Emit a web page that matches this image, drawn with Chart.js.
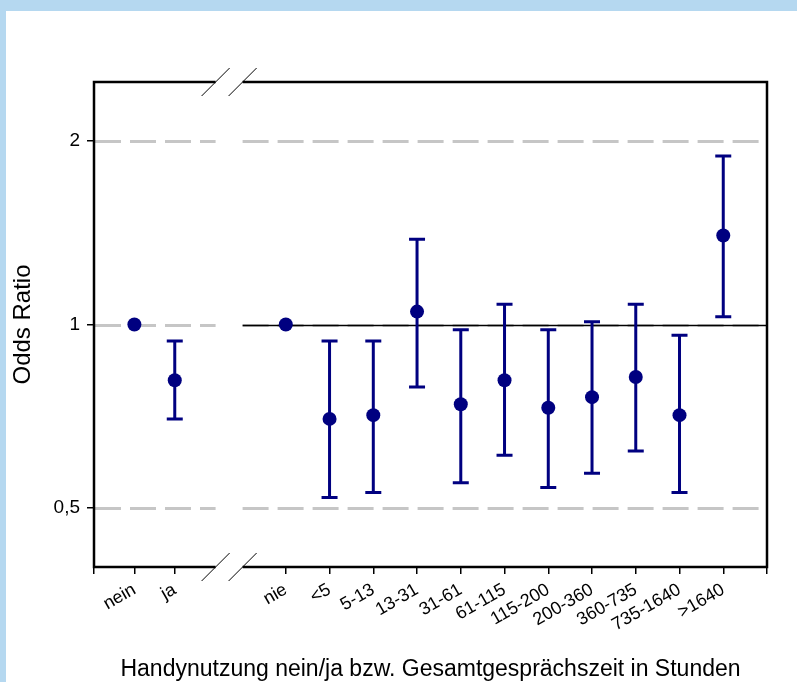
<!DOCTYPE html>
<html>
<head>
<meta charset="utf-8">
<title>Odds Ratio Handynutzung</title>
<script src="https://cdn.jsdelivr.net/npm/chart.js@4.4.0/dist/chart.umd.min.js"></script>
<style>
  html, body { margin: 0; padding: 0; background: #b5d8f0; }
  canvas { display: block; }
</style>
</head>
<body>
<canvas id="chart" width="797" height="682"></canvas>
<script>
// Kategorien (x-Achse)
const categories = ['nein', 'ja', 'nie', '<5', '5-13', '13-31', '31-61', '61-115',
                    '115-200', '200-360', '360-735', '735-1640', '>1640'];
// Odds Ratio je Kategorie
const oddsRatio = [1, 0.81, 1, 0.70, 0.71, 1.05, 0.74, 0.81, 0.73, 0.76, 0.82, 0.71, 1.40];
// 95%-Konfidenzintervall (untere / obere Grenze)
const ciLower = [null, 0.70, null, 0.52, 0.53, 0.79, 0.55, 0.61, 0.54, 0.57, 0.62, 0.53, 1.03];
const ciUpper = [null, 0.94, null, 0.94, 0.94, 1.38, 0.98, 1.08, 0.98, 1.01, 1.08, 0.96, 1.89];
// Ticks der y-Achse
const yTicks = [0.5, 1, 2];
const yTickLabels = ['0,5', '1', '2'];

// Layout: Position der Kategorien auf der x-Achse (0..100), Bruch zwischen "ja" und "nie"
const X_MAX = 100;
const BREAK_AT = 20;
const xPos = categories.map((c, i) => i < 2 ? 6 + 6 * i : 28.5 + 6.5 * (i - 2));
const xTicks = [0, ...xPos, X_MAX];
const xTickLabels = ['', ...categories, ''];

const NAVY = '#000080';
const GRID = '#c6c6c6';
const FONT = "'Liberation Sans', Arial, sans-serif";

// Hintergrund, gestrichelte Hilfslinien, Achsenbruch, Fehlerbalken
const odds_plugin = {
    id: 'oddsPlot',
    beforeDraw(chart) {
        const ctx = chart.ctx;
        ctx.save();
        ctx.fillStyle = '#ffffff';
        ctx.fillRect(6, 11, chart.width - 6, chart.height - 11);
        ctx.restore();
    },
    beforeDatasetsDraw(chart) {
        const ctx = chart.ctx;
        const area = chart.chartArea;
        const x = chart.scales.x, y = chart.scales.y;
        const bx = x.getPixelForValue(BREAK_AT);
        const gapL = bx - 13, gapR = bx + 14;

        ctx.save();
        // gestrichelte Linien
        ctx.strokeStyle = GRID;
        ctx.lineWidth = 3;
        ctx.setLineDash([26, 9]);
        yTicks.forEach(v => {
            const py = Math.round(y.getPixelForValue(v)) + 0.5;
            ctx.beginPath();
            ctx.moveTo(area.left + 1, py); ctx.lineTo(gapL, py);
            ctx.stroke();
            ctx.beginPath();
            ctx.moveTo(gapR, py); ctx.lineTo(area.right, py);
            ctx.stroke();
        });
        ctx.setLineDash([]);
        // Referenzlinie OR = 1 rechts vom Bruch
        const p1 = Math.round(y.getPixelForValue(1)) + 0.5;
        ctx.strokeStyle = '#000';
        ctx.lineWidth = 1.5;
        ctx.beginPath();
        ctx.moveTo(gapR, p1); ctx.lineTo(area.right, p1);
        ctx.stroke();

        // Fehlerbalken
        ctx.strokeStyle = NAVY;
        ctx.lineWidth = 3;
        categories.forEach((c, i) => {
            if (ciLower[i] == null) return;
            const px = x.getPixelForValue(xPos[i]);
            const lo = y.getPixelForValue(ciLower[i]);
            const hi = y.getPixelForValue(ciUpper[i]);
            ctx.beginPath();
            ctx.moveTo(px, lo); ctx.lineTo(px, hi);
            ctx.moveTo(px - 8, lo); ctx.lineTo(px + 8, lo);
            ctx.moveTo(px - 8, hi); ctx.lineTo(px + 8, hi);
            ctx.stroke();
        });
        ctx.restore();
    },
    afterDraw(chart) {
        const ctx = chart.ctx;
        const area = chart.chartArea;
        const bx = chart.scales.x.getPixelForValue(BREAK_AT);
        const gapL = bx - 13, gapR = bx + 14;

        ctx.save();
        // Rahmen mit Lücke
        ctx.strokeStyle = '#000';
        ctx.lineWidth = 2.5;
        ctx.beginPath();
        ctx.moveTo(gapL, area.top); ctx.lineTo(area.left, area.top);
        ctx.lineTo(area.left, area.bottom); ctx.lineTo(gapL, area.bottom);
        ctx.moveTo(gapR, area.top); ctx.lineTo(area.right, area.top);
        ctx.lineTo(area.right, area.bottom); ctx.lineTo(gapR, area.bottom);
        ctx.stroke();
        // Bruchzeichen
        ctx.lineWidth = 1;
        [area.top, area.bottom].forEach(py => {
            [gapL, gapR].forEach(px => {
                ctx.beginPath();
                ctx.moveTo(px - 14, py + 14);
                ctx.lineTo(px + 14, py - 14);
                ctx.stroke();
            });
        });
        ctx.restore();
    }
};

new Chart(document.getElementById('chart'), {
    type: 'scatter',
    data: {
        datasets: [{
            label: 'Odds Ratio',
            data: categories.map((c, i) => ({ x: xPos[i], y: oddsRatio[i] })),
            backgroundColor: NAVY,
            borderWidth: 0,
            pointRadius: 7,
            pointHoverRadius: 7
        }]
    },
    options: {
        responsive: false,
        animation: false,
        devicePixelRatio: 1,
        layout: { padding: { top: 82, right: 30, left: 0, bottom: 0 } },
        plugins: {
            legend: { display: false },
            tooltip: { enabled: false }
        },
        scales: {
            x: {
                type: 'linear',
                min: 0,
                max: X_MAX,
                afterBuildTicks: scale => { scale.ticks = xTicks.map(v => ({ value: v })); },
                afterFit: scale => { scale.height = 115; },
                border: { display: false },
                grid: { drawOnChartArea: false, drawTicks: true, tickLength: 7, color: '#000', lineWidth: 1.5 },
                ticks: {
                    autoSkip: false,
                    minRotation: 30,
                    maxRotation: 30,
                    padding: 5,
                    color: '#000',
                    font: { family: FONT, size: 18 },
                    callback: (value, index) => xTickLabels[index]
                },
                title: {
                    display: true,
                    text: 'Handynutzung nein/ja bzw. Gesamtgesprächszeit in Stunden',
                    color: '#000',
                    font: { family: FONT, size: 23 },
                    padding: { top: 0, bottom: -1 }
                }
            },
            y: {
                type: 'logarithmic',
                min: 0.4,
                max: 2.5,
                afterBuildTicks: scale => { scale.ticks = yTicks.map(v => ({ value: v })); },
                afterFit: scale => { scale.width = 94; },
                border: { display: false },
                grid: { drawOnChartArea: false, drawTicks: true, tickLength: 7, color: '#000', lineWidth: 1.5 },
                ticks: {
                    padding: 7,
                    color: '#000',
                    font: { family: FONT, size: 19 },
                    callback: (value, index) => yTickLabels[index]
                },
                title: {
                    display: true,
                    text: 'Odds Ratio',
                    color: '#000',
                    font: { family: FONT, size: 24 },
                    padding: { top: 9, bottom: 0 }
                }
            }
        }
    },
    plugins: [odds_plugin]
});
</script>
</body>
</html>
